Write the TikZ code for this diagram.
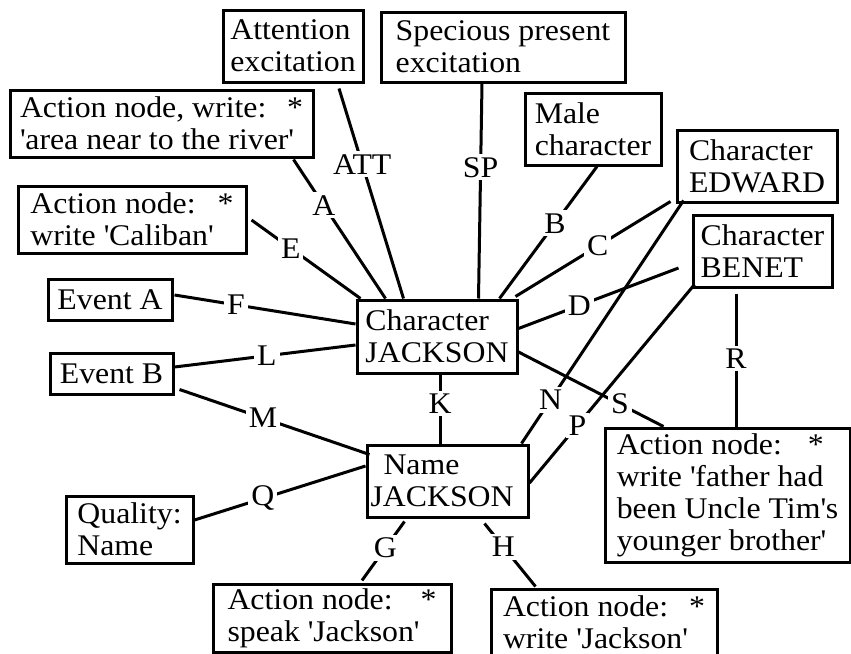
\documentclass[tikz,border=0pt]{standalone}
\usepackage{fontspec}
\setmainfont{Liberation Serif}[FakeStretch=1.06]
\usetikzlibrary{calc}
\newcommand{\sq}{\textquotesingle}
\newcommand{\starline}[2]{\makebox[#1][l]{#2\hfill*}}

\begin{document}
\begin{tikzpicture}[x=0.5pt, y=-0.5pt,
	font=\fontsize{15}{16}\selectfont,
	box/.style={draw, line width=1.5pt, align=left, inner xsep=0pt, inner ysep=2pt},
	link/.style={line width=1.5pt},
	lbl/.style={fill=white, inner sep=1.5pt}]
	\clip (0,0) rectangle (851,653);
	
	% Centre nodes
	\node[box, minimum width=80pt, minimum height=36.5pt] (cj) at (437,336.5) {Character\\JACKSON};
	\node[box, text width=77pt, minimum width=80.5pt, minimum height=36pt] (nj) at (447.5,481) {\hspace*{6.5pt}Name\\JACKSON};
	
	% Top row
	\node[box, minimum width=70pt, minimum height=36pt] (att) at (293,46) {Attention\\excitation};
	\node[box, minimum width=122pt, minimum height=35pt] (sp) at (503,47) {Specious present\\excitation};
	\node[box, minimum width=68pt, minimum height=36pt] (male) at (593,129) {Male\\character};
	\node[box, minimum width=80pt, minimum height=36pt] (ed) at (757,166) {Character\\EDWARD};
	\node[box, minimum width=69.5pt, minimum height=36pt] (ben) at (762.5,251) {Character\\BENET};
	
	% Left side
	\node[box, minimum width=151.5pt, minimum height=33.5pt] (anw) at (161.5,123.5) {\starline{141.5pt}{Action node, write:}\\\sq{}area near to the river\sq};
	\node[box, minimum width=114pt, minimum height=33.5pt] (anc) at (132,219.5) {\starline{101.5pt}{Action node:}\\write \sq{}Caliban\sq};
	\node[box, minimum width=62pt, minimum height=20.5pt] (eva) at (110,299.5) {Event A};
	\node[box, minimum width=61.5pt, minimum height=20.5pt] (evb) at (111.5,373.5) {Event B};
	\node[box, minimum width=63.5pt, minimum height=33.5pt] (qn) at (129.5,529.5) {Quality:\\Name};
	
	% Bottom and right
	\node[box, minimum width=119pt, minimum height=33.5pt] (asj) at (332,618.5) {\starline{104.5pt}{Action node:}\\speak \sq{}Jackson\sq};
	\node[box, minimum width=113pt, minimum height=33.5pt] (awj) at (604,622.5) {\starline{101pt}{Action node:}\\write \sq{}Jackson\sq};
	\node[box, minimum width=122.5pt, minimum height=67pt] (fat) at (727.5,495) {\starline{103.5pt}{Action node:}\\write \sq{}father had\\been Uncle Tim\sq{}s\\younger brother\sq};
	
	% Links into Character JACKSON
	\draw[link] ($(att.south)+(46,5)$) -- node[lbl, pos=.36] {ATT} ($(cj.north west)+(48,0)$);
	\draw[link] ($(anw.south east)+(-21,1)$) -- node[lbl, pos=.33] {A} ($(cj.north west)+(30,0)$);
	\draw[link] ($(anc.east)+(4,0.5)$) -- node[lbl, pos=.36] {E} ($(cj.north west)+(5,0)$);
	\draw[link] ($(eva.east)+(1,-4.5)$) -- node[lbl, pos=.34] {F} ($(cj.west)+(0,-12.5)$);
	\draw[link] ($(sp.south)+(-21,0)$) -- node[lbl, pos=.39] {SP} ($(cj.north west)+(123,0)$);
	\draw[link] ($(male.south)+(4,0)$) -- node[lbl, pos=.43] {B} ($(cj.north east)+(-19,0)$);
	\draw[link] ($(ed.south west)+(-5,-2)$) -- node[lbl, pos=.47] {C} ($(cj.north east)+(-3,-2)$);
	\draw[link] ($(ben.west)+(-13,17)$) -- node[lbl, pos=.62] {D} ($(cj.east)+(0,-8)$);
	\draw[link] ($(evb.east)+(0,-6.5)$) -- node[lbl, pos=.51] {L} ($(cj.west)+(0,8.5)$);
	
	% Links into Name JACKSON
	\draw[link] ($(ed.south west)+(8,-3)$) -- node[lbl, pos=.82] {N} ($(nj.north east)+(-8,0)$);
	\draw[link] ($(ben.south west)+(3,-4)$) -- node[lbl, pos=.71] {P} ($(nj.east)+(0,2)$);
	\draw[link] ($(cj.south)+(3,0)$) -- node[lbl, pos=.42] {K} ($(nj.north)+(-7.5,0)$);
	\draw[link] ($(evb.south east)+(5,-6)$) -- node[lbl, pos=.44] {M} ($(nj.north west)+(4,11)$);
	\draw[link] ($(qn.east)+(0,-9.5)$) -- node[lbl, pos=.40] {Q} ($(nj.west)+(0,-15)$);
	\draw[link] ($(nj.south west)+(39,3)$) -- node[lbl, pos=.45] {G} ($(asj.north)+(30,-3)$);
	\draw[link] ($(nj.south east)+(-45,5)$) -- node[lbl, pos=.37] {H} ($(awj.north west)+(46,-1)$);
	
	% Links into the father node
	\draw[link] ($(cj.east)+(0,15.5)$) -- node[lbl, pos=.70] {S} ($(fat.north west)+(60,0)$);
	\draw[link] ($(ben.south)+(-26.5,5)$) -- node[lbl, pos=.49] {R} ($(fat.north)+(8.5,0)$);
\end{tikzpicture}
\end{document}
